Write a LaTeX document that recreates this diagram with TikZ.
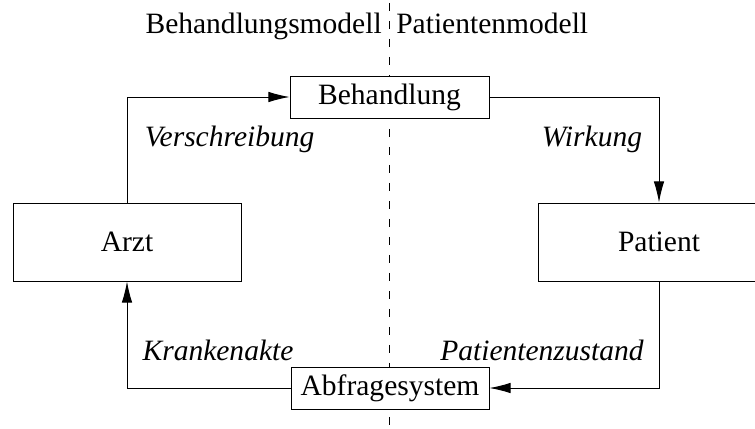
\documentclass[tikz,border=0pt]{standalone}
\usepackage{fontspec}
\setmainfont{Liberation Serif}
\usetikzlibrary{arrows.meta}
\usetikzlibrary{positioning}

\tikzset{
  every node/.style={font=\fontsize{21}{25}\selectfont},
  block/.style={rectangle,draw,fill=white,line width=0.7pt},
  lbl/.style={anchor=base,inner sep=0pt,font=\fontsize{21}{25}\selectfont\itshape},
  flow/.style={line width=0.7pt,-{Latex[length=15pt,width=7.5pt]}},
}

\begin{document}
\begin{tikzpicture}
\useasboundingbox (0,0) rectangle (18.875,10.7);

% Trennlinie
\coordinate (top) at (9.725,10.625);
\coordinate (bot) at (9.725,0);
\draw[line width=0.6pt,dash pattern=on 5.7pt off 7.1pt] (top) -- (bot);

\node[anchor=base east,inner sep=0pt] (hl) at (9.55,9.85) {Behandlungsmodell};
\node[anchor=base west,inner sep=0pt] (hr) at (9.9,9.85) {Patientenmodell};

% Bloecke
\node[block,minimum width=4.975cm,minimum height=1.05cm] (beh) at (9.7375,8.275) {Behandlung};
\node[block,minimum width=5.7cm,minimum height=1.95cm] (arzt) at (3.175,4.65) {Arzt};
\node[block,minimum width=6.05cm,minimum height=1.95cm] (pat) at (16.475,4.65) {Patient};
\node[block,minimum width=4.95cm,minimum height=1.05cm] (abf) at (9.75,1.0) {Abfragesystem};

% Verbindungen
\draw[flow] (arzt.north) |- (beh.west);
\draw[flow] (beh.east) -| (pat.north);
\draw[flow] (pat.south) |- (abf.east);
\draw[flow] (abf.west) -| (arzt.south);

\node[lbl] (verschr) at (5.74,7.05) {Verschreibung};
\node[lbl] (wirk) at (14.8,7.05) {Wirkung};
\node[lbl] (akte) at (5.45,1.7) {Krankenakte};
\node[lbl] (zust) at (13.55,1.7) {Patientenzustand};

\end{tikzpicture}
\end{document}
